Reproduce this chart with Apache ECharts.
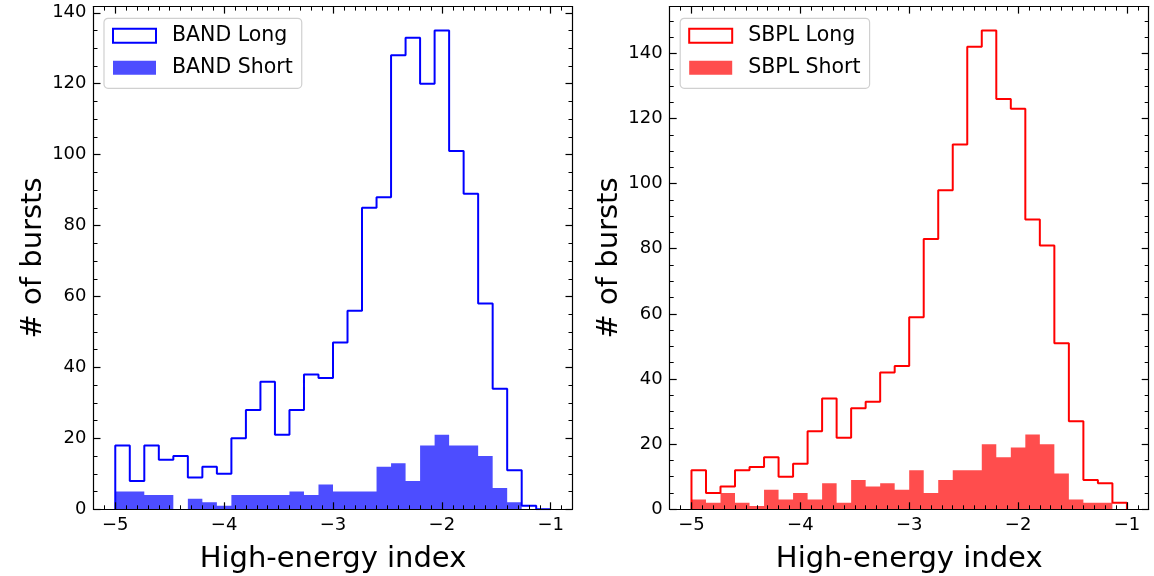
<!DOCTYPE html>
<html>
<head>
<meta charset="utf-8">
<script src="https://cdn.jsdelivr.net/npm/echarts@6/dist/echarts.min.js"></script>
<style>
html, body { margin: 0; padding: 0; background: #fff; }
#chartBox { width: 1154px; height: 576px; }
</style>
</head>
<body>
<div id="chartBox"></div>
<script>
// 30 equal bins between -5 and -1
var binStart = -5;
var binEnd = -1;
var binCount = 30;

var bandLong  = [18, 8, 18, 14, 15, 9, 12, 10, 20, 28, 36, 21, 28, 38, 37, 47, 56, 85, 88, 128, 133, 120, 135, 101, 89, 58, 34, 11, 1, 0];
var bandShort = [5, 5, 4, 4, 0, 3, 2, 1, 4, 4, 4, 4, 5, 4, 7, 5, 5, 5, 12, 13, 8, 18, 21, 18, 18, 15, 6, 2, 0, 0];
var sbplLong  = [12, 5, 7, 12, 13, 16, 10, 14, 24, 34, 22, 31, 33, 42, 44, 59, 83, 98, 112, 142, 147, 126, 123, 89, 81, 51, 27, 9, 8, 2];
var sbplShort = [3, 2, 5, 2, 1, 6, 3, 5, 3, 8, 2, 9, 7, 8, 6, 12, 5, 9, 12, 12, 20, 16, 19, 23, 20, 11, 3, 2, 2, 0];

var xMajor = [-5, -4, -3, -2, -1];
var yMajor = [0, 20, 40, 60, 80, 100, 120, 140];

var FONT = 'DejaVu Sans';

// outline points of a histogram, used with step: 'start'
function stepPoints(counts) {
    var w = (binEnd - binStart) / binCount;
    var pts = [[binStart, 0]];
    for (var i = 0; i < counts.length; i++) {
        pts.push([binStart + (i + 1) * w, counts[i]]);
    }
    pts.push([binEnd, 0]);
    return pts;
}

function range(a, b, step) {
    var out = [];
    for (var v = a; v <= b + 1e-9; v += step) out.push(Math.round(v * 10) / 10);
    return out;
}

var xMinor = range(-5.2, -0.8, 0.1);

var xAxes = [], yAxes = [], grids = [], legends = [], series = [];

function tickAxis(gi, pos, values, len, line, min, max) {
    return {
        gridIndex: gi, type: 'value', position: pos, min: min, max: max, z: 5,
        axisLine: { show: line, onZero: false, lineStyle: { color: '#000', width: 1.2 } },
        axisTick: { show: true, inside: true, length: len, customValues: values,
                    lineStyle: { color: '#000', width: len > 5 ? 1.2 : 1 } },
        axisLabel: { show: false },
        splitLine: { show: false }
    };
}

function addPanel(gi, left, yMax, names, longData, shortData, lineColor, fillColor) {
    grids.push({ left: left, top: 6.6, width: 479, height: 502.7, outerBoundsMode: 'none', containLabel: false });

    var yMinor = range(5, yMax, 5);

    var xi = xAxes.length;
    var xMain = tickAxis(gi, 'bottom', xMajor, 7, true, -5.2, -0.8);
    xMain.axisLabel = {
        show: true, customValues: xMajor, margin: 7, fontSize: 18, fontFamily: FONT, color: '#000',
        formatter: function (v) { return String(v).replace('-', '\u2212'); }
    };
    xMain.name = 'High-energy index';
    xMain.nameLocation = 'middle';
    xMain.nameGap = 36;
    xMain.nameTextStyle = { fontSize: 29, fontFamily: FONT, color: '#000' };
    xAxes.push(xMain);
    xAxes.push(tickAxis(gi, 'bottom', xMinor, 4, false, -5.2, -0.8));
    xAxes.push(tickAxis(gi, 'top', xMajor, 7, true, -5.2, -0.8));
    xAxes.push(tickAxis(gi, 'top', xMinor, 4, false, -5.2, -0.8));

    var yi = yAxes.length;
    var yMain = tickAxis(gi, 'left', yMajor, 7, true, 0, yMax);
    yMain.axisLabel = { show: true, customValues: yMajor, margin: 7, fontSize: 18, fontFamily: FONT, color: '#000' };
    yMain.name = '# of bursts';
    yMain.nameLocation = 'middle';
    yMain.nameGap = 45;
    yMain.nameTextStyle = { fontSize: 29, fontFamily: FONT, color: '#000' };
    yAxes.push(yMain);
    yAxes.push(tickAxis(gi, 'left', yMinor, 4, false, 0, yMax));
    yAxes.push(tickAxis(gi, 'right', yMajor, 7, true, 0, yMax));
    yAxes.push(tickAxis(gi, 'right', yMinor, 4, false, 0, yMax));

    series.push({
        name: names[0], type: 'line', xAxisIndex: xi, yAxisIndex: yi, step: 'start',
        symbol: 'none', silent: true, z: 3, data: stepPoints(longData),
        itemStyle: { color: lineColor },
        lineStyle: { color: lineColor, width: 2 }
    });
    series.push({
        name: names[1], type: 'line', xAxisIndex: xi, yAxisIndex: yi, step: 'start',
        symbol: 'none', silent: true, z: 2, data: stepPoints(shortData),
        itemStyle: { color: fillColor },
        lineStyle: { width: 0, opacity: 0 },
        areaStyle: { color: fillColor, opacity: 1 }
    });

    legends.push({
        left: left + 10.5, top: 18.3, orient: 'vertical', selectedMode: false,
        icon: 'rect', itemWidth: 43, itemHeight: 14, itemGap: 11,
        padding: [7, 9, 10, 8],
        backgroundColor: '#fff', borderColor: '#d0d0d0', borderWidth: 1.2, borderRadius: 4,
        formatter: function (name) { return '{g| }' + name; },
        textStyle: {
            fontSize: 20.5, fontFamily: FONT, color: '#000',
            rich: { g: { width: 11, fontSize: 20.5 } }
        },
        data: [
            { name: names[0], itemStyle: { color: '#fff', borderColor: lineColor, borderWidth: 2 } },
            { name: names[1], itemStyle: { color: fillColor, borderWidth: 0 } }
        ]
    });
}

addPanel(0, 93.5, 141.75, ['BAND Long', 'BAND Short'], bandLong, bandShort, '#0000ff', '#4d4dff');
addPanel(1, 669.7, 154.35, ['SBPL Long', 'SBPL Short'], sbplLong, sbplShort, '#ff0000', '#ff4d4d');

var chart = echarts.init(document.getElementById('chartBox'));
chart.setOption({
    animation: false,
    backgroundColor: '#fff',
    grid: grids,
    xAxis: xAxes,
    yAxis: yAxes,
    legend: legends,
    series: series
});
</script>
</body>
</html>
